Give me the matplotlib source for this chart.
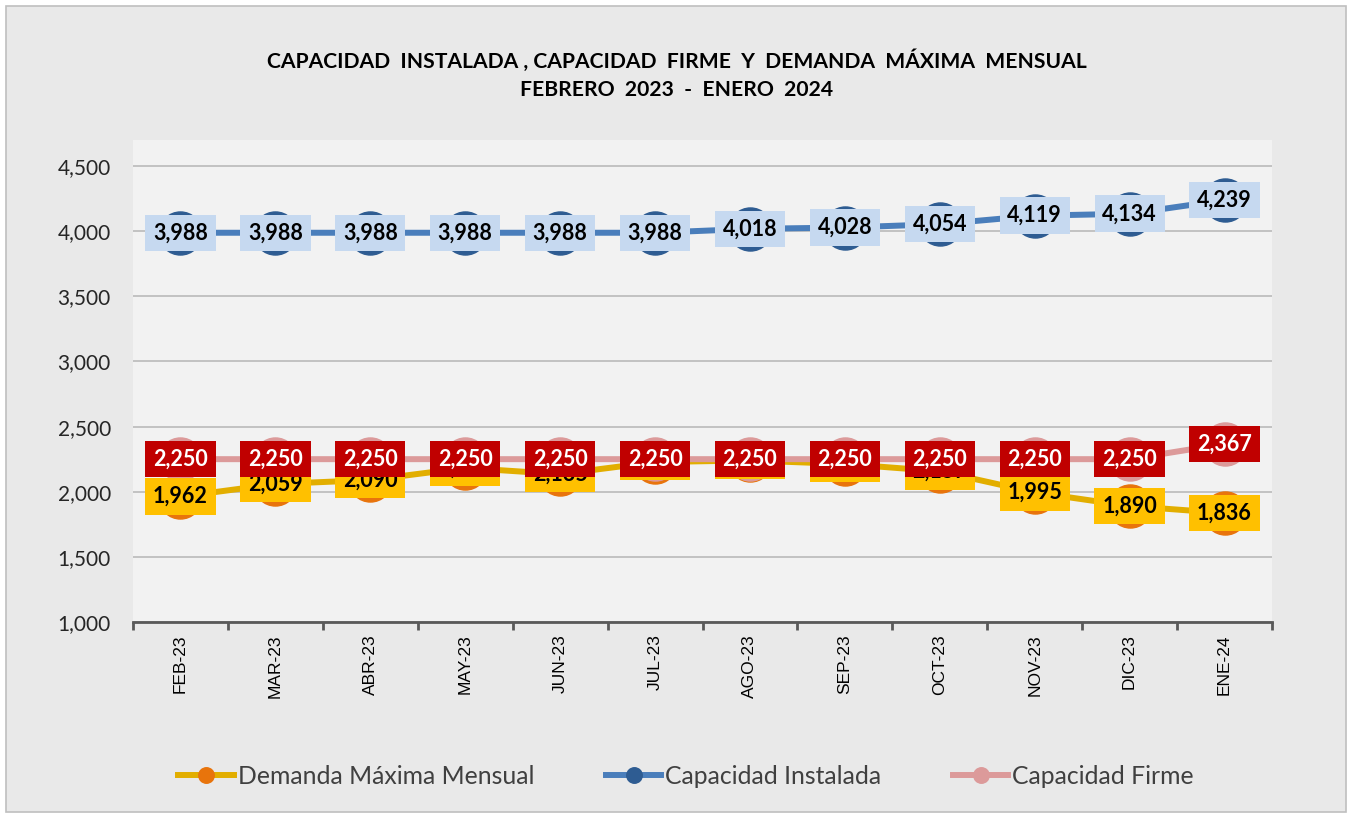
import matplotlib
matplotlib.use("Agg")
import matplotlib.pyplot as plt
from matplotlib.patches import Rectangle
from matplotlib.ticker import FuncFormatter, FixedLocator

months = ['FEB-23', 'MAR-23', 'ABR-23', 'MAY-23', 'JUN-23', 'JUL-23',
          'AGO-23', 'SEP-23', 'OCT-23', 'NOV-23', 'DIC-23', 'ENE-24']
demanda = [1962, 2059, 2090, 2183, 2135, 2228, 2240, 2213, 2157, 1995, 1890, 1836]
instalada = [3988, 3988, 3988, 3988, 3988, 3988, 4018, 4028, 4054, 4119, 4134, 4239]
firme = [2250, 2250, 2250, 2250, 2250, 2250, 2250, 2250, 2250, 2250, 2250, 2367]
yticks = [1000, 1500, 2000, 2500, 3000, 3500, 4000, 4500]

title1 = "CAPACIDAD  INSTALADA , CAPACIDAD  FIRME  Y  DEMANDA  MÁXIMA  MENSUAL"
title2 = "FEBRERO  2023  -  ENERO  2024"

W, H = 1352, 814
fig = plt.figure(figsize=(W / 100, H / 100), dpi=100)
fig.patch.set_facecolor('white')
fig.patches.append(Rectangle((6 / W, 2 / H), (W - 12) / W, (H - 8) / H,
                             transform=fig.transFigure, facecolor='#E9E9E9',
                             edgecolor='#BFBFBF', linewidth=1.2, zorder=-10))

ax = fig.add_axes([133 / W, 1 - 622 / H, (1272 - 133) / W, (622 - 140) / H])
ax.set_facecolor('#F2F2F2')
x = list(range(len(months)))

ax.plot(x, demanda, color='#E2AE00', lw=4.3, marker='o', ms=31,
        mfc='#E8740C', mec='#E8740C', zorder=3, label='Demanda Máxima Mensual')
ax.plot(x, instalada, color='#4A7EBB', lw=4.3, marker='o', ms=31,
        mfc='#2E5C92', mec='#2E5C92', zorder=3, label='Capacidad Instalada')
ax.plot(x, firme, color='#DC9A9A', lw=4.3, marker='o', ms=31,
        mfc='#DC9A9A', mec='#DC9A9A', zorder=4, label='Capacidad Firme')

lbl_font = ['Lato', 'DejaVu Sans']
lbl_size = 15.5
for xi, v in zip(x, demanda):
    ax.text(xi, v, f"{v:,}", ha='center', va='center', fontsize=lbl_size,
            fontweight='bold', family=lbl_font, color='black', zorder=6,
            bbox=dict(boxstyle='square,pad=0.36', fc='#FFC000', ec='none'))
for xi, v in zip(x, instalada):
    ax.text(xi, v, f"{v:,}", ha='center', va='center', fontsize=lbl_size,
            fontweight='bold', family=lbl_font, color='black', zorder=7,
            bbox=dict(boxstyle='square,pad=0.36', fc='#C6D9F0', ec='none'))
for xi, v in zip(x, firme):
    ax.text(xi, v, f"{v:,}", ha='center', va='center', fontsize=lbl_size,
            fontweight='bold', family=lbl_font, color='white', zorder=8,
            bbox=dict(boxstyle='square,pad=0.36', fc='#C00000', ec='none'))

ax.set_xlim(-0.5, len(months) - 0.5)
ax.set_ylim(1000, 4700)
ax.set_yticks(yticks)
ax.yaxis.set_major_formatter(FuncFormatter(lambda v, p: f"{int(v):,}"))
ax.grid(axis='y', color='#BFBFBF', lw=1.3, zorder=0)
ax.set_axisbelow(True)
for s in ['left', 'right', 'top']:
    ax.spines[s].set_visible(False)
ax.spines['bottom'].set_color('#595959')
ax.spines['bottom'].set_linewidth(2)
ax.tick_params(axis='y', length=0, pad=16, labelsize=15, labelcolor='#262626')
for t in ax.get_yticklabels():
    t.set_family(['Lato', 'DejaVu Sans'])

ax.set_xticks(x)
ax.set_xticklabels(months, rotation=90, fontsize=12.5, family=['Liberation Sans', 'DejaVu Sans'])
ax.tick_params(axis='x', which='major', length=0, pad=9)
ax.xaxis.set_minor_locator(FixedLocator([i - 0.5 for i in range(len(months) + 1)]))
ax.tick_params(axis='x', which='minor', length=6, width=2, color='#595959')

fig.text(677 / W, 1 - 61 / H, title1, ha='center', va='center', fontsize=15.2,
         fontweight='bold', family=['Lato', 'DejaVu Sans'])
fig.text(677 / W, 1 - 90 / H, title2, ha='center', va='center', fontsize=15.2,
         fontweight='bold', family=['Lato', 'DejaVu Sans'])

leg = fig.legend(loc='center', bbox_to_anchor=(686 / W, 1 - 776 / H), ncol=3,
                 frameon=False, handlelength=2.25, handletextpad=0.15,
                 columnspacing=2.9, markerscale=0.36,
                 prop={'family': ['Lato', 'DejaVu Sans'], 'size': 17.8})
for t in leg.get_texts():
    t.set_color('#404040')

fig.savefig('out.png', dpi=100, facecolor=fig.get_facecolor())
